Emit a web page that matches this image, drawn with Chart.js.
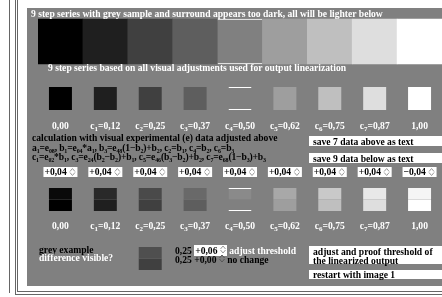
<!DOCTYPE html>
<html>
<head>
<meta charset="utf-8">
<script src="https://cdn.jsdelivr.net/npm/chart.js@4.4.1/dist/chart.umd.min.js"></script>
<style>
  body { margin: 0; background: #fff; width: 442px; height: 297px; overflow: hidden; position: relative;
         font: bold 9.6px "Liberation Serif", "Times New Roman", serif; }
  .t { position: absolute; white-space: nowrap; line-height: 10px; }
  .w { color: #fff; }
  .k { color: #000; }
  .eq { letter-spacing: -0.15px; }
  .box { position: absolute; left: 309px; width: 133px; background: #fff; color: #000;
         padding-left: 4px; box-sizing: border-box; white-space: nowrap; line-height: 9px; }
  .sp { background: #fff; padding: 0 1px; }
  sub { font-size: 6px; vertical-align: -2px; line-height: 0; }
  .ln { position: absolute; background: #666; }
  #panel { position: absolute; left: 27px; top: 8px; width: 415px; height: 278px; background: #808080; }
  #chart { position: absolute; left: 0; top: 0; }
</style>
</head>
<body>
<div class="ln" style="left:9px;top:0;width:1px;height:293px"></div>
<div class="ln" style="left:15px;top:0;width:1px;height:295px"></div>
<div class="ln" style="left:15px;top:294px;width:427px;height:1px"></div>
<div class="ln" style="left:17px;top:0;width:1px;height:292px"></div>
<div class="ln" style="left:17px;top:291px;width:425px;height:1px"></div>
<div id="panel"></div>
<canvas id="chart" width="442" height="297"></canvas>

<div class="t w" style="left:31px;top:9px">9 step series with grey sample and surround appears too dark, all will be lighter below</div>
<div class="t w" style="left:48px;top:63px">9 step series based on all visual adjustments used for output linearization</div>

<div class="t k" style="left:32px;top:133px">calculation with visual experimental (e) data adjusted above</div>
<div class="t k eq" style="left:32px;top:143px">a<sub>1</sub>=e<sub>08</sub>, b<sub>1</sub>=e<sub>04</sub>*a<sub>1</sub>, b<sub>3</sub>=e<sub>48</sub>(1&minus;b<sub>2</sub>)+b<sub>2</sub>, c<sub>2</sub>=b<sub>1</sub>, c<sub>4</sub>=b<sub>2</sub>, c<sub>6</sub>=b<sub>3</sub></div>
<div class="t k eq" style="left:32px;top:152px">c<sub>1</sub>=e<sub>02</sub>*b<sub>1</sub>, c<sub>3</sub>=e<sub>24</sub>(b<sub>2</sub>&minus;b<sub>2</sub>)+b<sub>1</sub>, c<sub>5</sub>=e<sub>46</sub>(b<sub>3</sub>&minus;b<sub>2</sub>)+b<sub>2</sub>, c<sub>7</sub>=e<sub>68</sub>(1&minus;b<sub>3</sub>)+b<sub>3</sub></div>

<div class="box" style="top:136px;height:10px;padding-top:1px">save 7 data above as text</div>
<div class="box" style="top:153px;height:10px;padding-top:1px">save 9 data below as text</div>

<div class="t k" style="left:39px;top:245px">grey example</div>
<div class="t w" style="left:39px;top:253px">difference visible?</div>

<div class="t k" style="left:175px;top:245px">0,25 <span class="sp">+0,06 <svg width="6" height="9"><path d="M0.5 4L3 1L5.5 4M0.5 5L3 8L5.5 5" fill="none" stroke="#999"/></svg></span> <span class="w">adjust threshold</span></div>
<div class="t k" style="left:175px;top:254px">0,25 +0,00 <svg width="6" height="9"><path d="M0.5 4L3 1L5.5 4M0.5 5L3 8L5.5 5" fill="none" stroke="#555"/></svg> no change</div>

<div class="box" style="top:246px;height:18px;padding-top:1px">adjust and proof threshold of<br>the linearized output</div>
<div class="box" style="top:270px;height:9px">restart with image 1</div>

<script>
// grey steps of the series
const stepNames = ["", "c1", "c2", "c3", "c4", "c5", "c6", "c7", ""];
const greyLevels = [0.00, 0.12, 0.25, 0.37, 0.50, 0.62, 0.75, 0.87, 1.00];
const stepOffsets = [0.04, 0.04, 0.04, 0.04, 0.04, 0.04, 0.04, 0.04, -0.04];
// grey example under c2
const sampleIndex = 2;
const sampleOffset = 0.06;

// rows of the layout (top, bottom) in canvas units
const bigRow = [19, 64];
const smallRow = [87, 110];
const pairTop = [188, 199.5];
const pairBottom = [199.5, 211];
const sampleTop = [247, 258.5];
const sampleBottom = [258.5, 270];

function grey(v){
  const g = Math.round(Math.max(0, Math.min(1, v)) * 255);
  return `rgb(${g},${g},${g})`;
}

function fmt(v){
  return (v < 0 ? "\u2212" : "") + Math.abs(v).toFixed(2).replace(".", ",");
}

function row(span, colours, pct, edge){
  return {
    data: greyLevels.map(() => span),
    backgroundColor: colours,
    barPercentage: pct,
    categoryPercentage: 1,
    grouped: false,
    borderSkipped: false,
    borderColor: "#fff",
    borderWidth: ctx => ctx.dataIndex === 4 ? edge : 0
  };
}

const midBorder = {top: 1, bottom: 1, left: 0, right: 0};
const topBorder = {top: 1, bottom: 0, left: 0, right: 0};
const bottomBorder = {top: 0, bottom: 1, left: 0, right: 0};

const baseColours = greyLevels.map(grey);
const shiftedColours = greyLevels.map((v, i) => grey(v + stepOffsets[i]));

const sampleSpan = (span) => greyLevels.map((v, i) => i === sampleIndex ? span : null);

function drawLabel(ctx, name, value, cx, y){
  const parts = name ? [[name[0], false], [name.slice(1), true], ["=" + value, false]] : [[value, false]];
  const big = 'bold 9.6px "Liberation Serif", serif';
  const small = 'bold 7px "Liberation Serif", serif';
  let w = 0;
  parts.forEach(p => { ctx.font = p[1] ? small : big; w += ctx.measureText(p[0]).width; });
  let x = cx - w / 2;
  parts.forEach(p => {
    ctx.font = p[1] ? small : big;
    ctx.fillText(p[0], x, p[1] ? y + 2 : y);
    x += ctx.measureText(p[0]).width;
  });
}

function drawSpinner(ctx, x, y, colour){
  ctx.strokeStyle = colour;
  ctx.lineWidth = 1;
  ctx.beginPath();
  ctx.moveTo(x, y + 4); ctx.lineTo(x + 2.5, y + 1); ctx.lineTo(x + 5, y + 4);
  ctx.moveTo(x, y + 5); ctx.lineTo(x + 2.5, y + 8); ctx.lineTo(x + 5, y + 5);
  ctx.stroke();
}

const textPlugin = {
  id: "steptext",
  afterDatasetsDraw(chart){
    const ctx = chart.ctx;
    const xs = chart.scales.x;
    ctx.save();
    ctx.textBaseline = "alphabetic";
    greyLevels.forEach((v, i) => {
      const cx = xs.getPixelForValue(i);
      ctx.fillStyle = "#fff";
      drawLabel(ctx, stepNames[i], fmt(v), cx, 129);
      drawLabel(ctx, stepNames[i], fmt(v), cx, 229);
      // offset input box
      ctx.fillStyle = "#fff";
      ctx.fillRect(cx - 17, 167, 34, 10);
      ctx.fillStyle = "#000";
      ctx.font = 'bold 9.6px "Liberation Serif", serif';
      const off = stepOffsets[i];
      ctx.fillText((off < 0 ? "\u2212" : "+") + fmt(Math.abs(off)), cx - 16, 175);
      drawSpinner(ctx, cx + 9.5, 167.5, "#999");
    });
    ctx.restore();
  }
};

new Chart(document.getElementById("chart"), {
  type: "bar",
  data: {
    labels: greyLevels.map(fmt),
    datasets: [
      row(bigRow, baseColours, 1, midBorder),
      row(smallRow, baseColours, 0.512, midBorder),
      row(pairTop, shiftedColours, 0.512, topBorder),
      row(pairBottom, baseColours, 0.512, bottomBorder),
      {
        data: sampleSpan(sampleTop),
        backgroundColor: grey(greyLevels[sampleIndex] + sampleOffset),
        barPercentage: 0.512, categoryPercentage: 1, grouped: false, borderWidth: 0
      },
      {
        data: sampleSpan(sampleBottom),
        backgroundColor: grey(greyLevels[sampleIndex]),
        barPercentage: 0.512, categoryPercentage: 1, grouped: false, borderWidth: 0
      }
    ]
  },
  options: {
    responsive: false,
    animation: false,
    devicePixelRatio: 1,
    layout: {padding: {left: 38, right: 0, top: 0, bottom: 0}},
    plugins: {legend: {display: false}, tooltip: {enabled: false}},
    scales: {
      x: {display: false, offset: true},
      y: {display: false, min: 0, max: 297, reverse: true}
    }
  },
  plugins: [textPlugin]
});
</script>
</body>
</html>
